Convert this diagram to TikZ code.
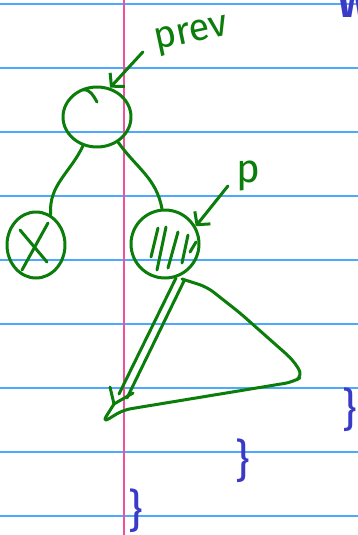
\documentclass[tikz,border=0pt]{standalone}
\usepackage{fontspec}
\usepackage{tikz}
\usetikzlibrary{shapes.geometric, arrows.meta}
\newfontfamily\handfont{Fira Sans}
\definecolor{inkGreen}{HTML}{0A7D0A}
\definecolor{inkBlue}{HTML}{3A3AC8}
\definecolor{ruleBlue}{HTML}{4DA8FF}
\definecolor{marginPink}{HTML}{F0509E}

\begin{document}
\begin{tikzpicture}[x=1pt, y=-1pt,
    ink/.style={draw=inkGreen, line width=3pt, line cap=round, line join=round},
    treenode/.style={ink, ellipse, inner sep=0pt},
    barb/.style={-{Straight Barb[length=9pt, width=20pt]}},
    brace/.style={text=inkBlue, font=\handfont\fontsize{45}{45}\selectfont, inner sep=0pt}]
    \useasboundingbox (0,0) rectangle (358,535);
    \clip (0,0) rectangle (358,535);
    \fill[white] (0,0) rectangle (358,535);
    \foreach \y in {4,68,...,516}
        \draw[ruleBlue, line width=1.6pt] (0,\y) -- (358,\y);
    \draw[marginPink, line width=1.6pt] (124,0) -- (124,535);

    \node[treenode, minimum width=68pt, minimum height=60pt] (prevnode) at (97,117) {};
    \node[treenode, minimum width=58pt, minimum height=66pt] (leftnode) at (36,245) {};
    \node[treenode, minimum width=68pt, minimum height=68pt] (pnode) at (165,244) {};

    \draw[ink] (prevnode.-116) to[out=-115, in=95] (leftnode.64);
    \draw[ink] (prevnode.-50) to[out=-55, in=100] (pnode.95);
    \draw[ink] (83,90) to[out=10, in=120] (97,102);

    \draw[ink] (48,223) -- (22,270);
    \draw[ink] (20,230) -- (47,262);

    \draw[ink] (158,228) -- (151,257);
    \draw[ink] (166,227) -- (157,270);
    \draw[ink] (178,232) -- (168,268);
    \draw[ink] (188,235) -- (182,263);
    \draw[ink] (196,242) -- (190,252);

    \node[text=inkGreen, font=\handfont\fontsize{38}{38}\selectfont, rotate=12, inner sep=0pt] (prevlabel) at (192,36) {prev};
    \node[text=inkGreen, font=\handfont\fontsize{40}{40}\selectfont, inner sep=0pt] (plabel) at (248,176) {p};
    \draw[ink, barb] (prevlabel.west) ++(-12,8) coordinate (prevtail) -- (prevnode.66);
    \draw[ink, barb] (plabel.west) ++(-8,10) coordinate (ptail) -- (pnode.30);

    \coordinate (apex) at (182,279);
    \coordinate (tip) at (114,404);
    \draw[ink, rounded corners=8pt] (apex) -- (207,287) -- (240,313) -- (293,360) -- (303,376)
        -- (293,382) -- (123,410) -- (102,423) -- (tip);
    \draw[ink] (176,278) -- (119,394);
    \draw[ink] (184,281) -- (127,398);
    \draw[ink] (110,387) -- (tip) -- (133,393);

    \node[brace] (braceA) at (350,410) {\}};
    \node[brace] (braceB) at (243,461) {\}};
    \node[brace] (braceC) at (136,511) {\}};
    \node[text=inkBlue, font=\handfont\bfseries\fontsize{40}{40}\selectfont, inner sep=0pt, anchor=base west] (topword) at (338,18) {W};
\end{tikzpicture}
\end{document}
